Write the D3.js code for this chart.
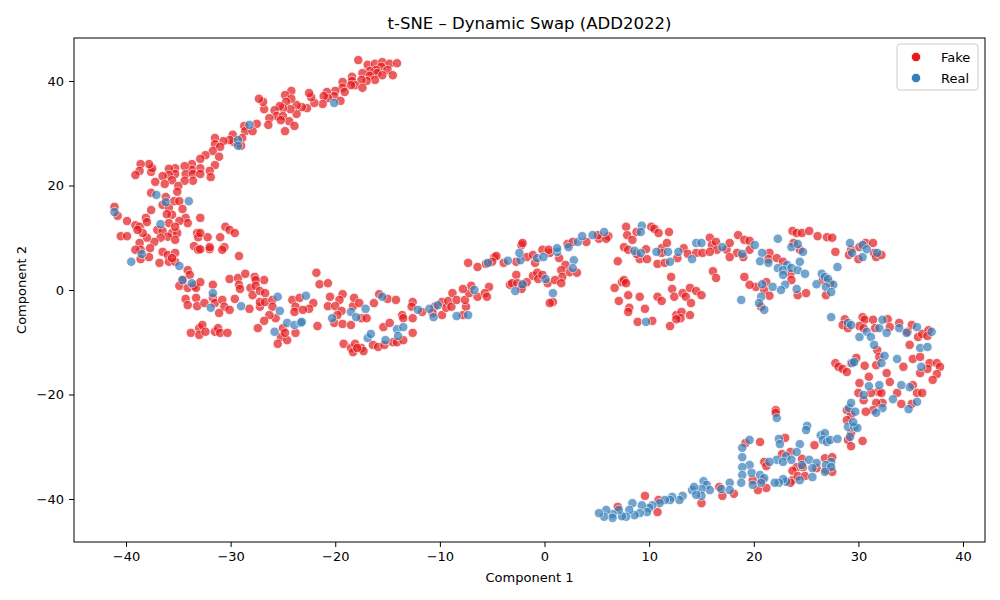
<!DOCTYPE html>
<html>
<head>
<meta charset="utf-8">
<script src="https://cdn.jsdelivr.net/npm/d3@7"></script>
<style>
  body { margin: 0; background: #fff; }
  svg text { font-family: "DejaVu Sans", sans-serif; fill: #000; }
</style>
</head>
<body>
<div id="chart"></div>
<script>
// t-SNE embedding (Component 1, Component 2)
const fakeUpperArm = [
  [-28.7,31.4],[-28.6,30.4],[-29.8,29.7],[-29.7,28.3],[-28.9,29.1],[-29,27.6],[-30.1,28.7],[-30.7,28.5],
  [-31.5,29.1],[-31.5,27.9],[-31,27.4],[-31.7,26.6],[-32.4,25.8],[-32.9,25.1],[-31.1,25.5],[-31.5,23.9],
  [-32,22.8],[-32.9,23.3],[-31.9,21.6],[-33.7,24.1],[-33.7,23],[-34.4,23.7],[-34.3,22.2],[-33.6,22.2],
  [-32.9,22.2],[-33.6,20.9],[-34.4,20.9],[-35.3,23.3],[-35.9,23.2],[-35.3,22.2],[-35.9,22],[-36.5,21.8],
  [-35.6,21],[-36.3,20.3],[-37.2,20.7],[-37.6,22.6],[-37.5,23.3],[-37.8,24.1],[-38.6,24.1],[-38.7,22.8],
  [-39.1,22],[-35,19.9],[-35.1,18.8],[-37.6,18.6],[-36.2,17.8],[-35.4,17],[-34.9,17],
  [-17.8,44],[-16.9,43.1],[-16.2,43.3],[-15.5,43.6],[-14.8,43.3],[-14.1,43.4],[-15.6,42.7],[-16.1,42.1],
  [-16.7,41.9],[-17.4,41.5],[-15,42.1],[-16,41.5],[-15.5,41.1],[-14.5,41.1],[-16.7,41],[-16.2,40.2],
  [-17,40],[-17.5,40.2],[-18.4,40.8],[-18.4,40],[-18.1,39.2],[-17.4,38.7],[-18.5,39.2],[-19.3,39.8],
  [-19.3,38.7],[-19.1,37.9],[-20,38.1],[-20.8,37.9],[-20.1,37.1],[-20.7,36.7],[-21.1,37.1],[-19.5,36.2],
  [-21.2,35.6],[-22,35.8],[-22.3,36.9],[-22.5,37.7],[-22.7,34.8],[-23.2,35],[-23.7,35.4],[-23.7,33.7],
  [-24.2,38.1],[-24.8,37.3],[-24.2,36.6],[-24.7,36],[-24.3,34.6],[-25,34.8],[-25.3,35.2],[-25.8,34.4],
  [-25.6,33.3],[-25,33.3],[-24.4,32.3],[-23.9,31.4],[-24.8,30.4],[-25.2,32.5],[-26.3,32.9],[-26.4,31.6],
  [-26.8,34.6],[-26.9,36],[-27.3,36.6],[-27.5,31.8],[-27.9,30.4]
];
const fakeLeftLoop = [
  [-41.1,15.9],[-40.8,14.2],[-39.9,13.2],[-39.1,12.4],[-38.7,12.1],[-38.1,13.8],[-38,13],[-37.6,15.3],
  [-36.5,16.3],[-35.9,15.7],[-35.6,14.4],[-34.6,15.5],[-34.3,13.8],[-34.1,12.8],[-34.9,13.2],[-36.1,14.5],
  [-32.9,13.8],[-35.9,12.8],[-37,11.5],[-36.5,11.3],[-35.6,10.9],[-35.1,10.9],[-36,10.2],[-36.7,10],
  [-37.3,9.2],[-38,10],[-38.4,10.9],[-38.9,11.5],[-40.5,10.3],[-39.9,10.3],[-38.7,9],[-38.6,7.7],
  [-39.1,7.7],[-37.7,8],[-38.6,5.9],[-37.8,6.3],[-36.8,5.2],[-36.5,7.3],[-36,6.7],[-35.9,5.4],
  [-35.3,7.1],[-35.3,5.4],[-35.6,6.1],[-35.3,9.6],[-35.3,12.1],[-33.2,10.9],[-33.1,10.1],[-32.2,10.1],
  [-32.9,10.9],[-31,10.1],[-30.5,12.1],[-30.1,11.5],[-29.6,10.9],[-33.5,8.4],[-33.1,7.7],[-32.9,7.8],
  [-32,7.8],[-32,8.2],[-30.6,8.2],[-30.8,7.7],[-29.2,6.5],[-34.1,3.8],[-33.9,2.9],[-34.6,1.9],
  [-34.9,0.8],[-34.1,0.4],[-33.5,0.8],[-33.3,0.4],[-32.9,1.5],[-31.7,1],[-30.1,2.1],[-29.3,2.3],
  [-28.6,3.1],[-27.7,2.5],[-26.8,1.9],[-27.6,1.9],[-29.2,1],[-29.1,0.2],[-28.1,0.4],[-27.6,0.8],
  [-27.9,-1],[-27.2,-0.2],[-26.7,-0.6],[-34.3,-1.7],[-34.1,-2.9],[-33.3,-1.5],[-33.2,-3.1],[-32.5,-2.5],
  [-31.7,-1.5],[-31.5,-2.5],[-30.8,-1.9],[-30.6,-3.2],[-31.1,-4.4],[-30.1,-3.8],[-29.6,-1.7],[-28.2,-3.6],
  [-27.2,-3.2],[-27.2,-2.3],[-26.7,-2.3],[-26,-1.9],[-26,-3.2],[-25.7,-5.4],[-26.3,-4.8],[-26.8,-5.9],
  [-27.4,-7.3],[-24.1,-1.9],[-23.4,-1.5],[-23.8,-3.2],[-23.9,-4.2],[-25,-7.3],[-25.2,-9],[-24.6,-9.6],
  [-25.5,-10.3],[-23.8,-8.2],[-24.8,-8.2],[-33.8,-8.2],[-33,-7.3],[-32.7,-6.7],[-33,-8.6],[-32.4,-8],
  [-31.5,-8],[-31.2,-7.3],[-31,-8.2],[-30.3,-8.2]
];
const fakeMiddle = [
  [-21.8,3.3],[-21.5,1.1],[-20.7,1.3],[-22.1,-2.5],[-22.5,-3.6],[-23.1,-3.8],[-21.7,-6.9],[-20.5,-1.3],
  [-19.3,-0.8],[-19.6,-1.9],[-20.7,-3.1],[-20,-3.1],[-19.4,-4],[-19.8,-4.8],[-20.1,-6.3],[-19.3,-6.5],
  [-18.5,-6.7],[-18.3,-3.1],[-18.2,-1.5],[-17.7,-2.5],[-17.5,-5.4],[-17,-5.4],[-16.3,-2.5],[-15.8,-0.8],
  [-15,-1.7],[-14.2,-1.9],[-19.2,-10.3],[-18.5,-11.1],[-18.1,-10.3],[-18.3,-11.9],[-17.5,-11.1],[-17.3,-11.7],
  [-17.9,-11.1],[-16.4,-10.5],[-15.9,-10.9],[-15.3,-10.5],[-14.5,-10],[-15.4,-7.1],[-14.8,-6.3],[-14.1,-10],
  [-13.5,-9.6],[-12.6,-8.2],[-13.6,-4.8],[-13.5,-5.4],[-12.6,-2.3],[-12.7,-3.2],[-12.6,-5.4],[-11.7,-4.2],
  [-10.5,-3.2],[-10.7,-4.4],[-9.8,-2.3],[-9.8,-4.8],[-9.4,-3.4],[-9.2,-2.1],[-8.8,-0.6],[-8.9,-3.2],
  [-8.4,-1.9],[-7.8,-4.8],[-7.5,-3.2],[-7.6,-1.9],[-7.2,-0.6],[-7,0.8],[-7.8,0.2],[-6.4,-1.3],
  [-7.3,5.2],[-6.4,4.4],
  [-5.3,0.6],[-5.7,-0.6],[-5.5,-1.3],[-5.6,5],[-4.8,6.3],[-4.6,6.5],[-5,5.4],[-3.9,5.2],
  [-2.7,5.4],[-1.7,6.3],[-1.1,6.7],[-0.9,5.2],[0.5,7.1],[1.4,6.1],[2,4.8],[2.4,3.4],
  [3.1,3.3],[1.6,3.8],[1.7,2.5],[-3.3,1],[-2.7,2.9],[-3.1,1.3],[-2.6,1.3],[-2.1,0.8],
  [-2.2,0.2],[-1.7,1.5],[-1.1,2.7],[-0.7,3.3],[-0.6,2.1],[-0.2,2.9],[0.3,1.3],[1,1.9],
  [1.6,1.3],[0.8,-2.3],[0.5,-2.5],[-2.2,8.6],[-2.1,9],[-0.2,7.7],[0.4,7.7],[2.2,8.8],[2.7,9.2]
];
const fakeRightBand = [
  [4,9.2],[5.2,9.8],[6.1,10.3],[5.9,9.8],[5.1,10.5],[7.8,12.1],[8.8,11.1],[7.9,10.5],
  [8.4,9.6],[10.2,12.1],[10.5,11.7],[10.9,10.9],[11.9,11.1],[7.6,8.2],[8,7.7],[9.7,7.8],
  [9.1,5.9],[9.8,5.9],[8.8,6.9],[11.2,8],[11.7,9],[11.2,7.1],[10.8,5],[11.5,5.2],
  [12.7,6.1],[7,5.5],[6.7,0.4],[7.4,1.5],[7.6,1.9],[7.8,1.3],[7.1,-2.1],[8,-1],
  [8.1,-3.4],[8,-4.2],[9.1,-1.3],[9.6,-3.6],[8.9,-6.1],[10.3,-5.9],[10.8,-1.3],[11.2,-2.1],
  [12.1,2.5],[12.2,0.2],[12.4,-1.3],[13.2,-0.6],[13.5,-1.3],[13.9,0.4],[14.5,-0.2],[15,-1],
  [14,-2.5],[12.6,-4.8],[13.1,-4.2],[13,-5.4],[13.9,-4.8],[12,-6.9],[12.6,-5.6],[13.3,8],
  [13.7,6.9],[14.5,7.1],[15.1,7.1],[15.8,10],[16,8.6],[16.4,9.2],[16.5,7.7],[17.4,7.7],
  [15.8,7.3],[16.1,3.6],[16.4,2.3],
  [18.5,10.5],[19.1,9.6],[19.6,9.4],[17.7,9],[18.4,7.1],[17.7,6.3],[19,6.3],[19.6,7.7],
  [21.5,7.1],[21.4,5.9],[22.2,6.1],[22.8,5.4],[23.5,3.1],[23.6,1.9],[21.2,1.5],[20.2,0.6],
  [19.6,1],[19.1,2.5],[21,0],[21.5,-1.1],[20.7,-3.2],[24.2,-1],[25,-0.6],[23.7,11.3],
  [24.1,10.9],[24.6,10.9],[25.3,11.3],[26.1,10.3],[27,10.1],[27.5,10],[27.8,7.3],[23.8,9],
  [24.4,7.7],[27.3,1.3],[26.9,-1],[26.6,1.9],[29.3,7.7],[29.1,6.7],[30,5.9],[30.7,9],
  [31.4,9],[31.5,7.1],[31.7,6.3],[32.2,6.7],[30.1,8.2]
];
const fakeLowerRight = [
  [28.7,-5.6],[28.5,-6.7],[29,-7.3],[30.4,-5.2],[30.6,-5.7],[30.1,-6.9],[30.5,-7.3],[31.4,-5.7],
  [31.6,-7.3],[32.8,-5.6],[33,-7.1],[33.9,-6.3],[35.1,-6.7],[34.7,-8],[35.7,-9],[36.1,-8.4],
  [36.7,-7.7],[36.6,-8.8],[34.9,-10.5],[31.8,-11.5],[32,-12.8],[31.7,-14.4],[34.3,-14.7],[35.2,-13.2],
  [35.9,-12.8],[36.8,-14],[37.5,-14],[37.8,-14.7],[35.9,-15.9],[36.6,-15.1],[37.5,-16.1],[37.1,-17.2],
  [35.2,-18.2],[35.6,-19.7],[36.1,-19.7],[35.1,-21.8],[34.1,-21.8],[33.7,-19.7],[33,-17.6],[32.7,-15.9],
  [31.9,-19.5],[31.2,-19.7],[32.2,-19.7],[31,-16.6],[30.1,-17.8],[30,-19.7],[30.5,-21.1],[32.3,-21.6],
  [31.7,-21.6],[31.4,-23],[30.7,-23.3],[28.9,-23],[29.3,-23.9],[27.8,-14],[28.1,-14.7],[28.5,-15.1],
  [28.9,-15.7],[29.3,-14],[29.8,-13],[30.6,-14.5],[22.1,-23],[22.1,-23.5],
  [28.9,-24.9],[29.3,-27.4],[29,-28.7],[29.3,-29.9],[30.4,-28.9]
];
const fakeBottomArc = [
  [23,-28.3],[23.5,-31],[22.7,-31.4],[21,-32.9],[21.2,-33.7],[24.6,-32.3],[24.1,-33.9],[23.7,-34.6],
  [24.7,-33.9],[26,-34.1],[26.8,-32.2],[27.5,-32],[26.9,-34.4],[27.5,-34.8],[25.8,-29.7],[23.7,-36.4],
  [23.5,-36.9],[24.2,-35.6],[24.9,-35.6],[19.2,-29.3],[20.6,-29.1],[19.9,-36.4],[20.8,-36.4],[21.2,-37.9],
  [20.4,-38.3],[16.7,-37.7],[17,-39.4],[18.1,-39],[15,-40.8],[10.9,-40.2],[10.8,-42.5],[9.6,-39.4],
  [7,-41.5]
];
const realPoints = [
  [-28.2,31.6],[-29.3,28.7],[-29.3,27.6],[-37.1,18.2],[-36.2,16.8],[-34,17],[-20.1,35.8],
  [-41.1,14.9],[-36.7,12.6],[-38.5,6.9],[-39.5,5.4],[-34.9,4.6],[-34.6,1.9],[-33.7,1.3],[-31.7,-0.6],
  [-31.9,-3.4],[-29,-3.1],[-25.5,-1.3],[-25.3,-4],[-24.6,-6.3],[-23.9,-6.7],[-23.3,-6.3],[-25.8,-8],
  [-22.8,-1.1],[-23.2,-6.1],[-20.3,-5.4],[-18.5,-4.2],[-18,-5.2],[-17.1,-3.6],[-15.5,-1.3],[-16.9,-9.2],
  [-16.6,-8.4],[-15.2,-9.6],[-14.1,-7.5],[-13.5,-7.1],[-14,-8.8],[-12.1,-3.8],[-11,-3.6],[-10.6,-5.2],
  [-10.2,-2.9],[-8.4,-5],[-7.3,-4.8],[-6.7,0],
  [-5.4,5.2],[-3.5,5.6],[-2.3,5.7],[-2.4,7.1],[-0.7,6.1],[-0.1,6.3],[1.2,7.3],[2.8,5.7],
  [2.7,4.2],[-2.1,1.1],[-2.8,-0.2],[0.1,2.1],[0.8,-0.6],
  [1.2,8],[2.3,8.2],[3.2,9.2],[3.6,10.3],[4.6,10.5],[5.7,11.1],[9.3,12.3],[9.2,11.1],
  [8.6,7.5],[9.2,7.1],[10.7,7.3],[11.8,7.3],[12,5.4],[12.8,7.3],[14.1,5.9],[14.5,9],
  [15,9],[17,8.2],[9.7,-6.1],
  [20.1,8.6],[18.9,6.9],[22.3,9.8],[20.8,7.1],[20.6,5.5],[21.4,5.2],[23.2,4.8],[22.3,4.2],
  [22.8,3.8],[23.6,4.2],[24.2,3.8],[24.4,5.4],[24.9,3.1],[22.8,2.9],[23,1],[22.6,0],
  [21.8,0.6],[20.8,1.1],[20.7,-1.3],[20.5,-2.5],[21,-3.8],[18.8,-1.9],[24.1,0.2],[23.6,8.2],
  [24.2,8.8],[24.7,7.3],[26.5,3.1],[26.8,2.5],[27.1,2.1],[27.6,1],[26,1.1],[26.9,0.6],
  [27.4,-0.4],[28,4.4],[29.2,9],[29.4,7.1],[30.4,6.3],[30.4,8.6],[30.8,7.8],[31.8,7.1],
  [27.4,-5.2],[29,-6.3],[29.3,-6.7],[30.1,-9],[30.8,-8],[32,-7.3],[32.3,-5.7],[31.2,-9],
  [32.7,-8.2],[33.9,-7.3],[35.6,-7.1],[34.6,-8.2],[37,-8],[35.9,-11.1],[36.6,-10.9],[31.5,-10.5],
  [32.5,-12.6],[32.2,-14],[33.7,-13.2],[36,-14.7],[34.9,-18.6],[35.6,-21.4],[34.8,-22.8],[33.3,-20.9],
  [34.1,-18.2],[32,-18.2],[31,-18.4],[30.5,-20.1],[32.3,-22.6],[31.7,-23.5],[29.1,-22.6],[29.3,-21.6],
  [29.7,-23.3],[29.4,-14],[29.6,-13.8],[22.2,-24.5],
  [29,-26.2],[29.2,-28.1],[29.6,-26.2],[29.9,-26.4],[29.5,-25.3],
  [25.1,-26],[25,-26.8],[26.4,-27.8],[26.8,-27.4],[26.6,-28.7],[27,-29.1],[27.3,-28.7],[28,-28.5],
  [22.4,-28.5],[22.5,-29.5],[24.4,-29.5],[24.1,-31],[23.1,-31.8],[22.2,-32.5],[21.5,-32.9],[22.8,-32.9],
  [23.6,-32.5],[24.6,-33.5],[25.3,-32.5],[26,-33.1],[25.6,-34.1],[25.6,-35.8],[27.4,-32.9],[26.9,-33.5],
  [27.4,-33.9],[26.8,-34.8],[23.1,-36.7],[24.4,-36.4],[22.8,-36.2],[22.4,-36.9],[22,-36.9],[19.6,-28.7],
  [18.9,-30.2],[18.9,-32],[19.6,-33.5],[18.9,-33.9],[18.9,-35.4],[19.8,-35],[20.6,-35.4],[21,-36],
  [20.7,-36.9],[19.9,-37.3],[18.8,-36.9],[17.7,-36.9],[16.9,-38.1],[17.7,-38.3],[15.2,-36.6],[15.5,-37.3],
  [15.8,-38.3],[15,-38.1],[15,-39.4],[14.1,-38.3],[14.3,-37.7],[14.5,-39.2],[13.2,-39.4],[12.9,-40.2],
  [12.2,-39.6],[12,-40.2],[11.5,-40.2],[11,-40.8],[10.3,-41.2],[10,-41.7],[9.8,-42.5],[9.3,-41.2],
  [9.1,-42.7],[8.6,-43.1],[8.4,-40.8],[8.1,-42.1],[7.8,-43.4],[7.4,-43.3],[7.1,-42.1],[6.5,-42.9],
  [6.5,-43.6],[5.9,-42.1],[5.7,-43.4],[5.2,-42.7]
];

const xTicks = [-40, -30, -20, -10, 0, 10, 20, 30, 40];
const yTicks = [-40, -20, 0, 20, 40];
const legendItems = [
  {text: 'Fake', color: '#e41a1c'},
  {text: 'Real', color: '#377eb8'}
];

const w = 1000;
const h = 600;
const margin = {top: 38, right: 15, bottom: 58, left: 74};

const svg = d3.select('#chart')
              .append('svg')
              .attr('width', w)
              .attr('height', h);

const xScale = d3.scaleLinear()
                 .domain([-44.97, 42.1])
                 .range([margin.left, w - margin.right]);

const yScale = d3.scaleLinear()
                 .domain([-48.23, 48.23])
                 .range([h - margin.bottom, margin.top]);

const fakePoints = [].concat(fakeUpperArm, fakeLeftLoop, fakeMiddle, fakeRightBand, fakeLowerRight, fakeBottomArc);

const addPoints = (points, color) => {
    svg.append('g')
       .selectAll('circle')
       .data(points)
       .enter()
       .append('circle')
       .attr('cx', d => xScale(d[0]))
       .attr('cy', d => yScale(d[1]))
       .attr('r', 4.7)
       .attr('fill', color)
       .attr('stroke', '#fff')
       .attr('stroke-width', 0.8)
       .attr('opacity', 0.7);
}

addPoints(fakePoints, legendItems[0].color);
addPoints(realPoints, legendItems[1].color);

// axes
const fmt = d3.format('d');
const xAxis = svg.append('g')
   .attr('transform', `translate(0, ${h - margin.bottom})`)
   .call(d3.axisBottom(xScale).tickValues(xTicks).tickFormat(fmt).tickSizeOuter(0).tickSize(5).tickPadding(5));

const yAxis = svg.append('g')
   .attr('transform', `translate(${margin.left}, 0)`)
   .call(d3.axisLeft(yScale).tickValues(yTicks).tickFormat(fmt).tickSizeOuter(0).tickSize(5).tickPadding(5));

svg.selectAll('.tick text')
   .style('font-size', '13px')
   .style('font-family', '"DejaVu Sans", sans-serif');
svg.selectAll('.domain').remove();
svg.selectAll('.tick line').attr('stroke', '#000').attr('stroke-width', 1);

// frame
svg.append('rect')
   .attr('x', margin.left)
   .attr('y', margin.top)
   .attr('width', w - margin.left - margin.right)
   .attr('height', h - margin.top - margin.bottom)
   .attr('fill', 'none')
   .attr('stroke', '#000')
   .attr('stroke-width', 1);

svg.append('text')
   .attr('x', (margin.left + w - margin.right) / 2)
   .attr('y', 29)
   .attr('text-anchor', 'middle')
   .style('font-size', '16.5px')
   .text('t-SNE – Dynamic Swap (ADD2022)');

svg.append('text')
   .attr('x', (margin.left + w - margin.right) / 2)
   .attr('y', 582)
   .attr('text-anchor', 'middle')
   .style('font-size', '13px')
   .text('Component 1');

svg.append('text')
   .attr('transform', `translate(26, ${(margin.top + h - margin.bottom) / 2}) rotate(-90)`)
   .attr('text-anchor', 'middle')
   .style('font-size', '13px')
   .text('Component 2');

// legend
const legend = svg.append('g');
legend.append('rect')
      .attr('x', 897)
      .attr('y', 44)
      .attr('width', 81)
      .attr('height', 46)
      .attr('rx', 3)
      .attr('fill', '#fff')
      .attr('fill-opacity', 0.8)
      .attr('stroke', '#ccc');

legend.selectAll('circle')
      .data(legendItems)
      .enter()
      .append('circle')
      .attr('cx', 916)
      .attr('cy', (d, i) => 57 + i * 21)
      .attr('r', 4.7)
      .attr('fill', d => d.color)
      .attr('stroke', '#fff')
      .attr('stroke-width', 0.8);

legend.selectAll('text')
      .data(legendItems)
      .enter()
      .append('text')
      .attr('x', 941)
      .attr('y', (d, i) => 62 + i * 21)
      .style('font-size', '13px')
      .text(d => d.text);
</script>
</body>
</html>
